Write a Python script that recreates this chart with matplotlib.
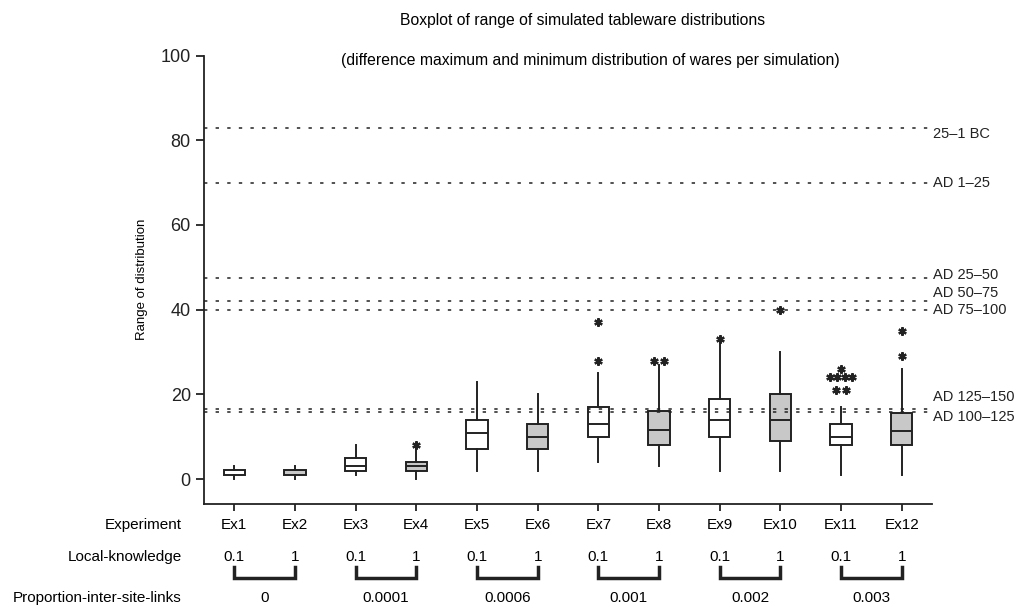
import matplotlib
matplotlib.use("Agg")
import matplotlib.pyplot as plt
import matplotlib.transforms as mtransforms

plt.rcParams['font.family'] = ['Liberation Sans', 'DejaVu Sans']

experiments = ['Ex1', 'Ex2', 'Ex3', 'Ex4', 'Ex5', 'Ex6',
               'Ex7', 'Ex8', 'Ex9', 'Ex10', 'Ex11', 'Ex12']
local_knowledge = ['0.1', '1'] * 6
proportion_links = ['0', '0.0001', '0.0006', '0.001', '0.002', '0.003']

whis_lo = [0, 0, 1, 0, 2, 2, 4, 3, 2, 2, 1, 1]
q1 = [0.9, 0.9, 2, 2, 7, 7, 10, 8, 10, 9, 8, 8]
median = [1.5, 1.5, 3, 3, 11, 10, 13, 11.5, 14, 14, 10, 11.3]
q3 = [2.1, 2.1, 5, 4, 14, 13, 17, 16, 19, 20, 13, 15.7]
whis_hi = [3, 3, 8, 7, 23, 20, 25, 27, 32, 30, 17, 26]
fliers = [[], [], [], [8], [], [], [28, 37], [28, 28], [33], [40],
          [21, 21, 24, 24, 24, 24, 26], [29, 35]]

period_values = [83, 70, 47.5, 42, 40, 16.5, 15.8]
period_labels = ['25–1 BC', 'AD 1–25', 'AD 25–50', 'AD 50–75',
                 'AD 75–100', 'AD 125–150', 'AD 100–125']
label_nudge = [-1.6, 0, 0.8, 1.9, 0, 2.8, -1.2]

fig = plt.figure(figsize=(10.28, 6.09), dpi=100)
ax = fig.add_axes([204 / 1028, 1 - 503.7 / 609, 728 / 1028, 448.2 / 609])

positions = list(range(1, len(experiments) + 1))
stats = []
for i in range(len(experiments)):
    stats.append({'whislo': whis_lo[i], 'q1': q1[i], 'med': median[i],
                  'q3': q3[i], 'whishi': whis_hi[i], 'fliers': []})

edge = '#222222'
bp = ax.bxp(stats, positions=positions, widths=0.35, patch_artist=True,
            showcaps=False,
            boxprops=dict(linewidth=1.4, edgecolor=edge),
            medianprops=dict(color=edge, linewidth=1.4),
            whiskerprops=dict(color=edge, linewidth=1.4))
for i, box in enumerate(bp['boxes']):
    box.set_facecolor('#c8c8c8' if i % 2 else 'white')
# the two narrowest boxes show no separate median stroke
for i in (0, 1):
    bp['medians'][i].set_visible(False)

# outliers: equal values are laid side by side
for i, vals in enumerate(fliers):
    counts = {}
    for v in vals:
        counts[v] = counts.get(v, 0) + 1
    for v, n in counts.items():
        step = 0.18 if n <= 2 else 0.12
        for k in range(n):
            off = (k - (n - 1) / 2) * step
            ax.plot(positions[i] + off, v, marker=(6, 2, 0), markersize=6,
                    markeredgewidth=1.6, color=edge, linestyle='none')

# period reference lines
trans = mtransforms.blended_transform_factory(ax.transAxes, ax.transData)
for val, lab, nudge in zip(period_values, period_labels, label_nudge):
    ax.plot([0, 1], [val, val], transform=trans, clip_on=False,
            color=edge, linewidth=1.1, linestyle=(0, (2.2, 5.4)))
    ax.text(1.002, val + nudge, lab, transform=trans, fontsize=10.5,
            va='center', ha='left', color='#222222')

ax.set_xlim(0.5, 12.5)
ax.set_ylim(-5.8, 100)
ax.set_yticks([0, 20, 40, 60, 80, 100])
ax.tick_params(axis='y', labelsize=13, length=6, width=1.3, colors='#222222')
ax.set_xticks(positions)
ax.set_xticklabels([])
ax.tick_params(axis='x', length=5, width=1.3, colors='#222222')
for side in ['top', 'right']:
    ax.spines[side].set_visible(False)
for side in ['left', 'bottom']:
    ax.spines[side].set_linewidth(1.3)
    ax.spines[side].set_color('#222222')
ax.set_ylabel('Range of distribution', fontsize=9.5, labelpad=9)

fig.text(583 / 1028, 1 - 20 / 609, 'Boxplot of range of simulated tableware distributions',
         ha='center', va='center', fontsize=11.3)
fig.text(590 / 1028, 1 - 61 / 609,
         '(difference maximum and minimum distribution of wares per simulation)',
         ha='center', va='center', fontsize=11.3)

# table below the axis
xt = mtransforms.blended_transform_factory(ax.transData, fig.transFigure)
row_x = 182 / 1028
fig.text(row_x, 1 - 525 / 609, 'Experiment', ha='right', va='center', fontsize=11)
fig.text(row_x, 1 - 557 / 609, 'Local-knowledge', ha='right', va='center', fontsize=11)
fig.text(row_x, 1 - 598 / 609, 'Proportion-inter-site-links', ha='right', va='center', fontsize=11)
for p, ex, lk in zip(positions, experiments, local_knowledge):
    ax.text(p, 1 - 525 / 609, ex, transform=xt, ha='center', va='center', fontsize=11)
    ax.text(p, 1 - 557 / 609, lk, transform=xt, ha='center', va='center', fontsize=11)
for j, lab in enumerate(proportion_links):
    a, b = positions[2 * j], positions[2 * j + 1]
    ax.plot([a, a, b, b], [1 - 567 / 609, 1 - 578 / 609, 1 - 578 / 609, 1 - 567 / 609],
            transform=xt, clip_on=False, color=edge, linewidth=2.5,
            solid_joinstyle='miter')
    ax.text((a + b) / 2, 1 - 598 / 609, lab, transform=xt, ha='center',
            va='center', fontsize=11)

fig.savefig('out.png', dpi=100)
